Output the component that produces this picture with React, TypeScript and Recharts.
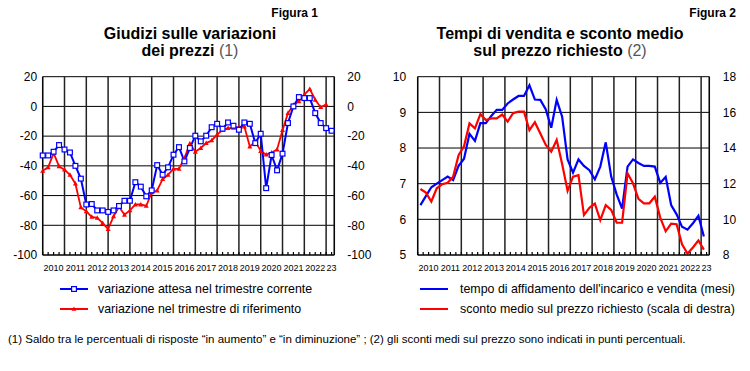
import { LineChart, Line, XAxis, YAxis, CartesianGrid, ReferenceLine } from "recharts";

const ANNI = ["2010", "2011", "2012", "2013", "2014", "2015", "2016", "2017", "2018", "2019", "2020", "2021", "2022", "23"];

// Figura 1: saldi trimestrali, 2010 T1 - 2023 T2
const ATTESA = [
  -33, -33, -30.5, -26, -29, -31, -40, -48.6, -66, -65.7,
  -70, -70, -71, -70, -67, -63.5, -63.5, -51, -54, -60.5,
  -56.5, -39.5, -46, -41, -32.5, -27.4, -37, -28, -19.7, -23.5,
  -19.7, -14, -11.7, -15, -10.8, -13, -15.7, -10.8, -11.7, -24.7,
  -18.4, -55, -32.7, -43, -31.8, -11.2, 0, 6.3, 5.6, 5.6,
  -4.5, -11.2, -14.6, -16.4,
];
const RIFERIMENTO = [
  -43.3, -41, -31.4, -40.4, -42.6, -46, -52, -68, -70.6, -74.4,
  -75, -78.5, -82.5, -74, -67.5, -72.9, -70, -66, -66, -67,
  -57.8, -56.6, -49, -46, -42, -42, -34.8, -25, -30.5, -28,
  -24.7, -22.9, -19, -15.7, -14.6, -14.5, -14, -13.5, -27, -23.5,
  -30, -32.5, -31, -29, -16, -4.5, 1, 3.4, 8, 11.7,
  4.5, -0.5, 1.2,
];

// Figura 2: 2010 T1 - 2023 T1
const TEMPO = [
  6.4, 6.65, 6.9, 7.0, 7.1, 7.2, 7.1, 7.5, 7.7, 8.4,
  8.2, 8.7, 8.7, 8.9, 9.07, 9.07, 9.25, 9.36, 9.46, 9.46,
  9.76, 9.36, 9.35, 9.08, 8.57, 9.35, 8.88, 7.68, 7.31, 7.68,
  7.5, 7.38, 7.12, 7.48, 8.16, 7.2, 6.7, 6.3, 7.48, 7.68,
  7.58, 7.5, 7.5, 7.48, 7.02, 7.19, 6.4, 6.14, 5.79, 5.71,
  5.89, 6.1, 5.52,
];
const SCONTO = [
  11.7, 11.5, 11.0, 11.74, 11.97, 12.05, 12.39, 13.6, 14.1, 15.38,
  15.1, 15.9, 15.57, 15.66, 15.66, 15.88, 15.48, 15.95, 16.04, 16.04,
  15.0, 15.45, 14.82, 14.17, 13.79, 14.45, 13.1, 11.6, 12.39, 12.48,
  10.24, 10.65, 10.88, 9.95, 10.8, 10.53, 9.81, 9.81, 12.58, 12.02,
  11.15, 10.9, 10.9, 11.27, 10.1, 9.33, 9.76, 9.73, 8.6, 8.08,
  8.42, 8.82, 8.3,
];

const TICK_Y1 = [-100, -80, -60, -40, -20, 0, 20];
const TICK_Y2_SX = [5, 6, 7, 8, 9, 10];
const TICK_Y2_DX = [8, 10, 12, 14, 16, 18];

const BLU = "#0000ff";
const ROSSO = "#ff0000";
const FONT = "'Liberation Sans', Arial, sans-serif";

const dati1 = ATTESA.map((v, i) => ({ t: i, attesa: v, riferimento: i < RIFERIMENTO.length ? RIFERIMENTO[i] : null }));
const dati2 = TEMPO.map((v, i) => ({ t: i, tempo: v, sconto: SCONTO[i] }));

// tacche trimestrali, linee verticali a inizio anno, etichetta a meta' anno
const tacche1 = ATTESA.map((_, i) => i);
const griglia1 = ANNI.map((_, k) => 4 * k).concat([53.5]);
const etichetta1 = (v: number) => (v % 4 === 2 ? ANNI[(v - 2) / 4] : v === 53 ? ANNI[13] : "");

const tacche2 = ATTESA.map((_, i) => i - 0.5);
const griglia2 = ANNI.map((_, k) => 4 * k - 0.5).concat([53]);
const etichetta2 = (v: number) => {
  const j = v + 0.5;
  return j % 4 === 2 ? ANNI[(j - 2) / 4] : j === 53 ? ANNI[13] : "";
};

const Quadrato = (p: any) => {
  if (p.cx == null || p.cy == null || p.value == null) return <g key={p.index} />;
  return <rect key={p.index} x={p.cx - 2.4} y={p.cy - 2.4} width={4.8} height={4.8} fill="#fff" stroke={BLU} strokeWidth={1.2} />;
};

const Triangolo = (p: any) => {
  if (p.cx == null || p.cy == null || p.value == null) return <g key={p.index} />;
  const { cx, cy } = p;
  return <path key={p.index} d={`M${cx},${cy - 2.6}L${cx + 2.5},${cy + 1.9}L${cx - 2.5},${cy + 1.9}Z`} fill={ROSSO} />;
};

function Figura1() {
  return (
    <LineChart width={380} height={215} data={dati1} margin={{ top: 16.7, right: 0, bottom: 0, left: 0 }}>
      <XAxis
        type="number"
        dataKey="t"
        domain={[0, 53.5]}
        ticks={tacche1}
        interval={0}
        height={20}
        tickSize={-3}
        tickLine={{ stroke: "#000", strokeWidth: 1.2 }}
        axisLine={{ stroke: "#000" }}
        tickMargin={12.5}
        tickFormatter={etichetta1}
        tick={{ fontSize: 9, fill: "#000" }}
      />
      <YAxis yAxisId="s" domain={[-100, 20]} ticks={TICK_Y1} interval={0} width={42.7} tickMargin={5.5} tickSize={0} tickLine={false} axisLine={{ stroke: "#000" }} tick={{ fontSize: 12, fill: "#000" }} />
      <YAxis yAxisId="d" orientation="right" domain={[-100, 20]} ticks={TICK_Y1} interval={0} width={45.7} tickMargin={13} tickSize={0} tickLine={false} axisLine={{ stroke: "#000" }} tick={{ fontSize: 12, fill: "#000" }} />
      <CartesianGrid yAxisId="s" vertical={false} stroke="#000" strokeWidth={1} />
      {griglia1.map((v) => (
        <ReferenceLine key={v} xAxisId={0} yAxisId="s" x={v} stroke="#222" strokeWidth={1.5} ifOverflow="visible" />
      ))}
      <Line yAxisId="d" dataKey="riferimento" stroke={ROSSO} strokeWidth={1.8} dot={Triangolo} isAnimationActive={false} />
      <Line yAxisId="s" dataKey="attesa" stroke={BLU} strokeWidth={2} dot={Quadrato} isAnimationActive={false} />
    </LineChart>
  );
}

function Figura2() {
  return (
    <LineChart width={375} height={215} data={dati2} margin={{ top: 16.7, right: 0, bottom: 0, left: 0 }}>
      <XAxis
        type="number"
        dataKey="t"
        domain={[-0.5, 53]}
        ticks={tacche2}
        interval={0}
        height={20}
        tickSize={-3}
        tickLine={{ stroke: "#000", strokeWidth: 1.2 }}
        axisLine={{ stroke: "#000" }}
        tickMargin={12.5}
        tickFormatter={etichetta2}
        tick={{ fontSize: 9, fill: "#000" }}
      />
      <YAxis yAxisId="s" domain={[5, 10]} ticks={TICK_Y2_SX} interval={0} width={42.7} tickMargin={11.5} tickSize={0} tickLine={false} axisLine={{ stroke: "#000" }} tick={{ fontSize: 12, fill: "#000" }} />
      <YAxis yAxisId="d" orientation="right" domain={[8, 18]} ticks={TICK_Y2_DX} interval={0} width={40.7} tickMargin={13.5} tickSize={0} tickLine={false} axisLine={{ stroke: "#000" }} tick={{ fontSize: 12, fill: "#000" }} />
      <CartesianGrid yAxisId="s" vertical={false} stroke="#000" strokeWidth={1} />
      {griglia2.map((v) => (
        <ReferenceLine key={v} xAxisId={0} yAxisId="s" x={v} stroke="#222" strokeWidth={1.5} ifOverflow="visible" />
      ))}
      <Line yAxisId="s" dataKey="tempo" stroke={BLU} strokeWidth={2.2} dot={false} isAnimationActive={false} />
      <Line yAxisId="d" dataKey="sconto" stroke={ROSSO} strokeWidth={2.2} dot={false} isAnimationActive={false} />
    </LineChart>
  );
}

const testo = (left: number, top: number, extra: React.CSSProperties = {}): React.CSSProperties => ({
  position: "absolute",
  left,
  top,
  whiteSpace: "nowrap",
  ...extra,
});

function Simbolo({ colore, tipo }: { colore: string; tipo: "quadrato" | "triangolo" | "linea" }) {
  return (
    <svg width={28} height={8} style={{ display: "block" }}>
      <line x1={0} y1={4} x2={28} y2={4} stroke={colore} strokeWidth={2} />
      {tipo === "quadrato" && <rect x={11.6} y={1.6} width={4.8} height={4.8} fill="#fff" stroke={colore} strokeWidth={1.2} />}
      {tipo === "triangolo" && <path d="M14,1.6L16.4,5.8L11.6,5.8Z" fill={colore} />}
    </svg>
  );
}

export default function App() {
  const leg = { fontSize: 12.4, lineHeight: "14px", color: "#000" };
  const titolo = { fontSize: 16, fontWeight: 700, lineHeight: "17px", color: "#000", textAlign: "center" as const, width: 300 };
  const figura = { width: 100, textAlign: "right" as const, fontSize: 12, fontWeight: 700, lineHeight: "14px" };
  return (
    <div style={{ position: "absolute", left: 0, top: 0, width: 750, height: 371, background: "#fff", fontFamily: FONT, overflow: "hidden" }}>
      <div style={testo(218, 6, figura)}>Figura 1</div>
      <div style={testo(636, 6, figura)}>Figura 2</div>
      <div style={testo(190 - 150, 25, titolo)}>
        Giudizi sulle variazioni
        <br />
        dei prezzi <span style={{ fontWeight: 400, color: "#555" }}>(1)</span>
      </div>
      <div style={testo(560 - 150, 25, titolo)}>
        Tempi di vendita e sconto medio
        <br />
        sul prezzo richiesto <span style={{ fontWeight: 400, color: "#555" }}>(2)</span>
      </div>

      <div style={{ position: "absolute", left: 0, top: 60 }}>
        <Figura1 />
      </div>
      <div style={{ position: "absolute", left: 375, top: 60 }}>
        <Figura2 />
      </div>

      <div style={testo(60, 285)}><Simbolo colore={BLU} tipo="quadrato" /></div>
      <div style={testo(98, 282, leg)}>variazione attesa nel trimestre corrente</div>
      <div style={testo(60, 305)}><Simbolo colore={ROSSO} tipo="triangolo" /></div>
      <div style={testo(98, 302, leg)}>variazione nel trimestre di riferimento</div>

      <div style={testo(420, 285)}><Simbolo colore={BLU} tipo="linea" /></div>
      <div style={testo(460, 282, leg)}>tempo di affidamento dell'incarico e vendita (mesi)</div>
      <div style={testo(420, 305)}><Simbolo colore={ROSSO} tipo="linea" /></div>
      <div style={testo(460, 302, leg)}>sconto medio sul prezzo richiesto (scala di destra)</div>

      <div style={testo(8, 332, { fontSize: 11.5, lineHeight: "14px", color: "#000" })}>
        (1) Saldo tra le percentuali di risposte “in aumento” e “in diminuzione” ; (2) gli sconti medi sul prezzo sono indicati in punti percentuali.
      </div>
    </div>
  );
}
